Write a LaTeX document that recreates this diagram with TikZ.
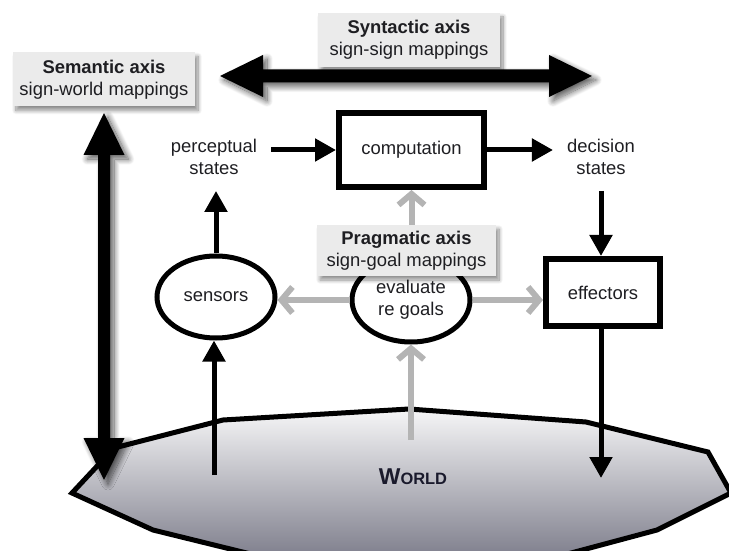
\documentclass[tikz,border=0pt]{standalone}
\usepackage{fontspec}
\setmainfont{Liberation Sans}
\usetikzlibrary{arrows.meta,shapes.geometric,shadows.blur,calc}

\definecolor{ink}{HTML}{1E1E22}
\definecolor{labelfill}{HTML}{EBEBEB}
\definecolor{goalgrey}{HTML}{B4B4B4}
\definecolor{worldtop}{HTML}{F6F6F7}
\definecolor{worldmid}{HTML}{C9C9CF}
\definecolor{worldbot}{HTML}{737382}
\definecolor{worldtext}{HTML}{1A1A2C}

\tikzset{
  txt/.style={font=\fontsize{18.5}{22}\selectfont, text=ink, align=center},
  softshadow/.style={blur shadow={shadow xshift=3bp, shadow yshift=-4bp,
      shadow blur radius=4bp, shadow opacity=45, shadow blur steps=10}},
  darkshadow/.style={blur shadow={shadow xshift=4bp, shadow yshift=-4bp,
      shadow blur radius=6bp, shadow opacity=65, shadow blur steps=12}},
  axislabel/.style={txt, fill=labelfill, inner sep=0pt,
      minimum width=182bp, minimum height=54bp, softshadow},
  stagebox/.style={txt, draw=black, line width=6bp, inner sep=0pt},
  organ/.style={txt, ellipse, draw=black, line width=5bp, inner sep=0pt,
      minimum width=118bp, minimum height=82bp},
  statetext/.style={txt, inner xsep=14bp, inner ysep=16bp},
  flow/.style={draw=black, line width=5bp, -{Triangle[length=21bp,width=22bp]}},
  goalflow/.style={draw=goalgrey, line width=6bp,
      -{Straight Barb[length=11bp,width=26bp]}},
  axisarrow/.style={fill=black, darkshadow},
}

\begin{document}
\begin{tikzpicture}[x=1bp, y=-1bp]
  \useasboundingbox (0,0) rectangle (729,551);

  % the world: a flattened dodecagon, shaded from light to dark
  \begin{scope}
    \clip (0,0) rectangle (729,551);
    \draw[line width=5bp, line join=miter, top color=worldtop,
          middle color=worldmid, bottom color=worldbot]
      (409,409) -- (586,422) -- (708,452) -- (731,493) -- (657,530)
      -- (545,560) -- (409,572) -- (275,560) -- (153,530) -- (72,493)
      -- (114,448) -- (223,420) -- cycle;
  \end{scope}
  \node[font=\bfseries, text=worldtext] (world) at (413,477)
    {\fontsize{23}{23}\selectfont W\fontsize{16.5}{16.5}\selectfont ORLD};

  % free ends of the connectors that touch the world
  \coordinate (wsens) at (214,475);
  \coordinate (wgoal) at (411,440);
  \coordinate (weff)  at (601,478);

  % stages of the loop
  \node[stagebox, minimum width=145bp, minimum height=74bp] (comp) at (411.5,150) {computation};
  \node[stagebox, minimum width=114bp, minimum height=67bp] (eff) at (603,292.5) {effectors};
  \node[statetext] (perc) at (214,157) {perceptual\\states};
  \node[statetext] (dec)  at (601,157) {decision\\states};
  \node[organ] (sens) at (216,297) {sensors};
  \node[organ, minimum height=84bp] (eval) at (411,300) {evaluate\\re goals};

  % axis labels
  \node[axislabel] (sem)  at (104,79.5) {\textbf{Semantic axis}\\sign-world mappings};
  \node[axislabel] (syn)  at (409,40)   {\textbf{Syntactic axis}\\sign-sign mappings};
  \node[axislabel, minimum width=179bp, minimum height=51bp] (prag) at (406.5,250.5)
    {\textbf{Pragmatic axis}\\sign-goal mappings};

  % semantic axis: vertical double arrow
  \coordinate (semTop) at (104,113);
  \coordinate (semBot) at (104,480);
  \path[axisarrow] (semTop) -- ++(20.5,42) -- ++(-14.5,0) -- ++(0,283)
    -- ++(14.5,0) -- (semBot) -- ++(-20.5,-42) -- ++(14.5,0) -- ++(0,-283)
    -- ++(-14.5,0) -- cycle;

  % syntactic axis: horizontal double arrow
  \coordinate (synL) at (220,76);
  \coordinate (synR) at (592,76);
  \path[axisarrow] (synL) -- ++(43,-21) -- ++(0,14.5) -- ++(286,0)
    -- ++(0,-14.5) -- (synR) -- ++(-43,21) -- ++(0,-14.5) -- ++(-286,0)
    -- ++(0,14.5) -- cycle;

  % black information flow
  \draw[flow] (perc.east |- comp.west) -- (comp.west);
  \draw[flow] (comp.east) -- (comp.east -| dec.west);
  \draw[flow] (dec.south) -- (dec.south |- eff.north);
  \draw[flow] (sens.north) -- (sens.north |- perc.south);
  \draw[flow] (wsens) -- (wsens |- sens.south);
  \draw[flow] (weff |- eff.south) -- (weff);

  % grey goal-driven flow
  \draw[goalflow] (eval.west) -- (eval.west -| sens.east);
  \draw[goalflow] (eval.east) -- (eval.east -| eff.west);
  \draw[goalflow] (wgoal) -- (wgoal |- eval.south);
  \draw[goalflow] (comp.south |- prag.north) -- (comp.south);
\end{tikzpicture}
\end{document}
